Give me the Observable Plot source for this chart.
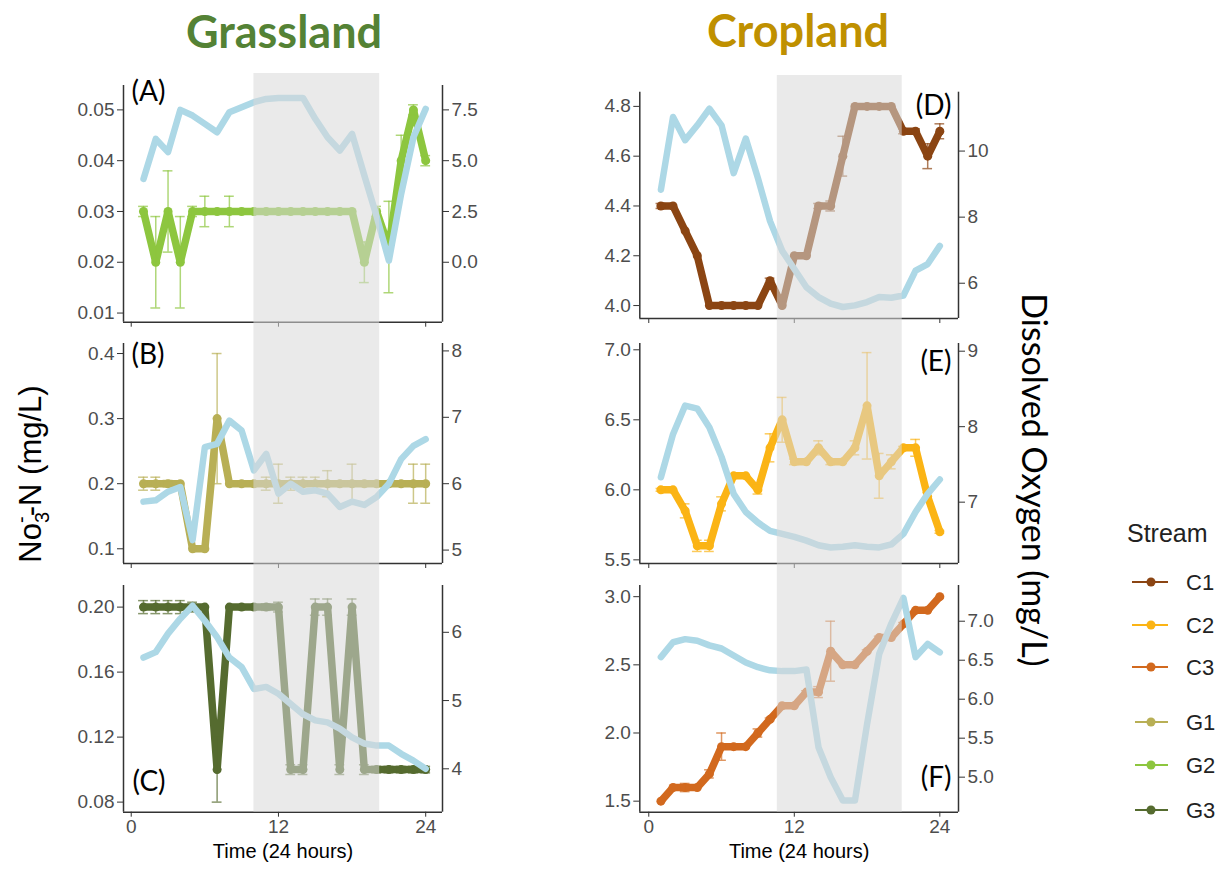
<!DOCTYPE html>
<html><head><meta charset="utf-8">
<script src="https://cdn.jsdelivr.net/npm/d3@7"></script>
<script src="https://cdn.jsdelivr.net/npm/@observablehq/plot@0.6"></script>
<style>
body{margin:0;background:#fff;}
#root{position:relative;width:1220px;height:869px;overflow:hidden;background:#fff;}
.panel{position:absolute;}
.panel svg{overflow:visible;background:transparent;}
#overlay{position:absolute;left:0;top:0;}
</style></head><body><div id="root"></div>
<script>
// ---------------- data ----------------
const hours = [1,2,3,4,5,6,7,8,9,10,11,12,13,14,15,16,17,18,19,20,21,22,23,24];
const streams = ["C1","C2","C3","G1","G2","G3"];
const streamColors = ["#8b4513","#fbb415","#d2691e","#b8af55","#8dc63f","#556b2f"];

// nitrate (mg/L) and its error (sd)
const g2Nitrate = [0.03,0.02,0.03,0.02,0.03,0.03,0.03,0.03,0.03,0.03,0.03,0.03,0.03,0.03,0.03,0.03,0.03,0.03,0.02,0.03,0.023,0.04,0.05,0.04];
const g2Err     = [0.001,0.009,0.008,0.009,0.001,0.003,0,0.003,0,0,0,0,0,0,0,0,0,0,0.004,0.001,0.009,0.005,0.001,0.001];
const g1Nitrate = [0.2,0.2,0.2,0.2,0.1,0.1,0.3,0.2,0.2,0.2,0.2,0.2,0.2,0.2,0.2,0.2,0.2,0.2,0.2,0.2,0.2,0.2,0.2,0.2];
const g1Err     = [0.01,0.01,0.005,0,0,0,0.1,0,0,0,0.01,0.03,0.01,0.01,0.01,0.02,0,0.03,0,0,0,0,0.03,0.03];
const g3Nitrate = [0.2,0.2,0.2,0.2,0.2,0.2,0.1,0.2,0.2,0.2,0.2,0.2,0.1,0.1,0.2,0.2,0.1,0.2,0.1,0.1,0.1,0.1,0.1,0.1];
const g3Err     = [0.004,0.004,0.004,0.004,0.003,0,0.02,0,0,0,0.002,0.003,0.003,0.003,0.005,0.005,0.003,0.005,0.003,0.002,0.002,0.002,0.002,0.002];
const c1Nitrate = [4.4,4.4,4.3,4.2,4.0,4.0,4.0,4.0,4.0,4.1,4.0,4.2,4.2,4.4,4.4,4.6,4.8,4.8,4.8,4.8,4.7,4.7,4.6,4.7];
const c1Err     = [0.01,0,0,0,0,0,0,0,0,0.01,0,0,0,0.01,0.02,0.08,0,0,0,0,0.01,0.01,0.05,0.03];
const c2Nitrate = [6.0,6.0,5.85,5.6,5.6,5.9,6.1,6.1,6.0,6.3,6.5,6.2,6.2,6.3,6.2,6.2,6.3,6.6,6.1,6.2,6.3,6.3,5.95,5.7];
const c2Err     = [0.01,0,0.05,0.04,0.04,0.05,0,0,0.03,0.1,0.16,0.02,0,0.05,0.02,0,0.05,0.38,0.16,0.05,0.01,0.06,0.03,0.01];
const c3Nitrate = [1.5,1.6,1.6,1.6,1.7,1.9,1.9,1.9,2.0,2.1,2.2,2.2,2.3,2.3,2.6,2.5,2.5,2.6,2.7,2.7,2.8,2.9,2.9,3.0];
const c3Err     = [0,0,0.03,0,0.03,0.1,0,0,0.03,0.01,0,0,0.01,0.04,0.22,0,0,0.01,0.01,0,0.01,0,0,0];

// dissolved oxygen (mg/L)
const g2Oxygen = [4.10,6.07,5.42,7.50,7.22,6.81,6.40,7.38,7.63,7.88,8.04,8.09,8.09,8.09,7.06,6.15,5.50,6.32,4.27,2.26,0.08,3.36,6.15,7.55];
const g1Oxygen = [5.73,5.75,5.88,5.95,5.15,6.55,6.60,6.95,6.80,6.20,6.45,5.85,6.00,5.88,5.90,5.85,5.65,5.73,5.68,5.80,6.00,6.37,6.57,6.67];
const g3Oxygen = [5.63,5.71,5.98,6.20,6.39,6.17,5.93,5.63,5.49,5.17,5.20,5.10,4.95,4.80,4.71,4.68,4.59,4.46,4.37,4.34,4.34,4.22,4.12,4.00];
const c1Oxygen = [8.83,11.03,10.33,10.78,11.28,10.78,9.33,10.38,9.18,7.88,6.98,6.43,5.88,5.58,5.38,5.28,5.33,5.43,5.58,5.56,5.63,6.38,6.58,7.13];
const c2Oxygen = [7.33,7.90,8.28,8.24,7.99,7.60,7.11,6.87,6.73,6.62,6.58,6.54,6.49,6.43,6.40,6.41,6.43,6.41,6.40,6.44,6.58,6.87,7.11,7.30];
const c3Oxygen = [6.54,6.73,6.77,6.75,6.69,6.65,6.56,6.47,6.41,6.37,6.36,6.36,6.38,5.38,5.00,4.70,4.70,5.68,6.58,6.97,7.30,6.54,6.71,6.60];

// night (shaded) periods, hours
const grassNight = [10, 20.25];
const cropNight = [10.6, 20.9];

// axis ticks
const aTicks = [0.01,0.02,0.03,0.04,0.05], aDoTicks = [0,2.5,5,7.5];
const bTicks = [0.1,0.2,0.3,0.4],          bDoTicks = [5,6,7,8];
const cTicks = [0.08,0.12,0.16,0.20],      cDoTicks = [4,5,6];
const dTicks = [4.0,4.2,4.4,4.6,4.8],      dDoTicks = [6,8,10];
const eTicks = [5.5,6.0,6.5,7.0],          eDoTicks = [7,8,9];
const fTicks = [1.5,2.0,2.5,3.0],          fDoTicks = [5.0,5.5,6.0,6.5,7.0];
const timeTicks = [0,12,24];

// ---------------- panels ----------------
const root = document.getElementById("root");
const leftX = [-0.63, 25.37], rightX = [-0.74, 25.54];

const panels = [
  {label:"(A)", nit:g2Nitrate, err:g2Err, ox:g2Oxygen, color:streamColors[4], ticks:aTicks, fmt:".2f", doTicks:aDoTicks, doFmt:".1f",
   a:0.02, d0:0, b:1/250, yDom:[0.0082,0.0548], xDom:leftX, night:grassNight,
   left:50, top:60, height:270, mt:25, mb:8.3, ml:73, mr:38, shadeTop:12, shadeBot:8.3,
   lab:{frameAnchor:"top-left", textAnchor:"start", dx:8, dy:7}},
  {label:"(B)", nit:g1Nitrate, err:g1Err, ox:g1Oxygen, color:streamColors[3], ticks:bTicks, fmt:".1f", doTicks:bDoTicks, doFmt:"d",
   a:0.2, d0:6, b:0.102, yDom:[0.0774,0.4154], xDom:leftX, night:grassNight,
   left:50, top:330, height:242, mt:13, mb:9, ml:73, mr:38, shadeTop:13, shadeBot:9,
   lab:{frameAnchor:"top-left", textAnchor:"start", dx:8, dy:12}},
  {label:"(C)", nit:g3Nitrate, err:g3Err, ox:g3Oxygen, color:streamColors[5], ticks:cTicks, fmt:".2f", doTicks:cDoTicks, doFmt:"d",
   a:0.1005, d0:4, b:0.042, yDom:[0.0738,0.2133], xDom:leftX, night:grassNight,
   left:50, top:572, height:297, mt:13, mb:57.3, ml:73, mr:38, shadeTop:13, shadeBot:0, showX:true,
   lab:{frameAnchor:"bottom-left", textAnchor:"start", dx:9, dy:-30}},
  {label:"(D)", nit:c1Nitrate, err:c1Err, ox:c1Oxygen, color:streamColors[0], ticks:dTicks, fmt:".1f", doTicks:dDoTicks, doFmt:"d",
   a:4.0897, d0:6, b:0.1327, yDom:[3.948,4.857], xDom:rightX, night:cropNight,
   left:570, top:60, height:270, mt:31.7, mb:12, ml:69.3, mr:42, shadeTop:16.7, shadeBot:12,
   lab:{frameAnchor:"top-right", textAnchor:"end", dx:-7, dy:14}},
  {label:"(E)", nit:c2Nitrate, err:c2Err, ox:c2Oxygen, color:streamColors[1], ticks:eTicks, fmt:".1f", doTicks:eDoTicks, doFmt:"d",
   a:5.912, d0:7, b:0.539, yDom:[5.474,7.045], xDom:rightX, night:cropNight,
   left:570, top:330, height:242, mt:13, mb:9, ml:69.3, mr:42, shadeTop:13, shadeBot:9,
   lab:{frameAnchor:"top-right", textAnchor:"end", dx:-7, dy:19}},
  {label:"(F)", nit:c3Nitrate, err:c3Err, ox:c3Oxygen, color:streamColors[2], ticks:fTicks, fmt:".1f", doTicks:fDoTicks, doFmt:".1f",
   a:1.676, d0:5, b:0.572, yDom:[1.419,3.082], xDom:rightX, night:cropNight,
   left:570, top:572, height:297, mt:13, mb:57.3, ml:69.3, mr:42, shadeTop:13, shadeBot:0, showX:true,
   lab:{frameAnchor:"bottom-right", textAnchor:"end", dx:-7, dy:-34}}
];

const axisInk = "#333333", tickText = "#4d4d4d";

for (const p of panels) {
  const toN = dv => p.a + (dv - p.d0) * p.b;
  const fromN = n => p.d0 + (n - p.a) / p.b;
  const nit = hours.map((h, i) => ({h, v: p.nit[i], e: p.err[i]}));
  const errs = nit.filter(d => d.e > 0).map(d => ({h: d.h, lo: d.v - d.e, hi: d.v + d.e}));
  const ox = hours.map((h, i) => ({h, v: toN(p.ox[i])}));
  const doFormat = d3.format(p.doFmt);
  const marks = [
    Plot.line(nit, {x: "h", y: "v", stroke: p.color, strokeWidth: 7.5, strokeLinejoin: "round"}),
    Plot.dot(nit, {x: "h", y: "v", fill: p.color, r: 4.5}),
    Plot.ruleX(errs, {x: "h", y1: "lo", y2: "hi", stroke: p.color, strokeOpacity: 0.7, strokeWidth: 1.5}),
    Plot.ruleY(errs, {y: "lo", x1: d => d.h - 0.4, x2: d => d.h + 0.4, stroke: p.color, strokeOpacity: 0.7, strokeWidth: 1.5}),
    Plot.ruleY(errs, {y: "hi", x1: d => d.h - 0.4, x2: d => d.h + 0.4, stroke: p.color, strokeOpacity: 0.7, strokeWidth: 1.5}),
    Plot.line(ox, {x: "h", y: "v", stroke: "#add8e6", strokeWidth: 6.5, strokeLinejoin: "round"}),
    Plot.axisY({anchor: "left", ticks: p.ticks, tickFormat: d3.format(p.fmt), tickSize: 6, tickPadding: 3, stroke: axisInk, fill: tickText, label: null}),
    Plot.axisY({anchor: "right", ticks: p.doTicks.map(toN), tickFormat: n => doFormat(Math.round(fromN(n) * 100) / 100), tickSize: 6, tickPadding: 3, stroke: axisInk, fill: tickText, label: null}),
    Plot.axisX({ticks: timeTicks, tickFormat: p.showX ? d3.format("d") : () => "", tickSize: 5, tickPadding: 2, stroke: axisInk, fill: tickText, label: null}),
    Plot.ruleX([p.xDom[0]], {stroke: axisInk, strokeWidth: 1.5}),
    Plot.ruleX([p.xDom[1]], {stroke: axisInk, strokeWidth: 1.5}),
    Plot.ruleY([p.yDom[0]], {stroke: axisInk, strokeWidth: 1.5}),
    Plot.text([p.label], {...p.lab, text: d => d, fontSize: 28, fontFamily: "Lato, 'Open Sans', sans-serif", fill: "black", lineAnchor: "middle"})
  ];
  if (p.showX) {
    marks.push(Plot.text(["Time (24 hours)"], {text: d => d, frameAnchor: "bottom", dy: 46, fontSize: 20, fill: "black"}));
  }
  marks.push(Plot.rectX([p.night], {x1: d => d[0], x2: d => d[1], fill: "#d9d9d9", fillOpacity: 0.55, insetTop: -p.shadeTop, insetBottom: -p.shadeBot}));

  const chart = Plot.plot({
    width: 430, height: p.height,
    marginLeft: p.ml, marginRight: p.mr, marginTop: p.mt, marginBottom: p.mb,
    x: {domain: p.xDom},
    y: {domain: p.yDom},
    style: {background: "transparent", fontFamily: "'Liberation Sans', Arial, sans-serif", fontSize: "19px", overflow: "visible"},
    marks
  });
  const div = document.createElement("div");
  div.className = "panel";
  div.style.left = p.left + "px";
  div.style.top = p.top + "px";
  div.style.width = "430px";
  div.append(chart);
  root.append(div);
}

// ---------------- titles, axis labels, legend ----------------
const svg = d3.select(root).append("svg").attr("id", "overlay").attr("width", 1220).attr("height", 869);
svg.append("text").attr("x", 284).attr("y", 48).attr("text-anchor", "middle")
  .attr("font-family", "Lato, 'Open Sans', sans-serif").attr("font-weight", 700).attr("font-size", 45)
  .attr("fill", "#548235").text("Grassland");
svg.append("text").attr("x", 798).attr("y", 47).attr("text-anchor", "middle")
  .attr("font-family", "Lato, 'Open Sans', sans-serif").attr("font-weight", 700).attr("font-size", 45)
  .attr("fill", "#bf9000").text("Cropland");

const yl = svg.append("text").attr("transform", "translate(41,474) rotate(-90)").attr("text-anchor", "middle")
  .attr("font-family", "'Liberation Sans', Arial, sans-serif").attr("font-size", 31).attr("fill", "black");
yl.append("tspan").text("No");
yl.append("tspan").attr("font-size", 20).attr("dy", 8).text("3");
yl.append("tspan").attr("font-size", 20).attr("dx", -11).attr("dy", -21).text("-");
yl.append("tspan").attr("dy", 13).text("-N (mg/L)");

svg.append("text").attr("transform", "translate(1022,480) rotate(90)").attr("text-anchor", "middle")
  .attr("font-family", "Lato, 'Open Sans', sans-serif").attr("font-size", 34).attr("fill", "black")
  .text("Dissolved Oxygen (mg/L)");

svg.append("text").attr("x", 1127).attr("y", 542).attr("font-family", "'Liberation Sans', Arial, sans-serif")
  .attr("font-size", 25).attr("fill", "#222").text("Stream");
const legendY = [582, 625, 667, 722, 765, 810];
streams.forEach((s, i) => {
  const g = svg.append("g").attr("transform", `translate(0,${legendY[i]})`);
  const x0 = i < 3 ? 1132 : 1135;
  g.append("line").attr("x1", x0).attr("x2", 1168).attr("y1", 0).attr("y2", 0).attr("stroke", streamColors[i]).attr("stroke-width", 2);
  g.append("circle").attr("cx", 1151).attr("cy", 0).attr("r", 4.5).attr("fill", streamColors[i]);
  g.append("text").attr("x", 1186).attr("y", 0).attr("dy", "0.35em").attr("font-family", "'Liberation Sans', Arial, sans-serif")
    .attr("font-size", 22).attr("fill", "#222").text(s);
});
</script></body></html>
